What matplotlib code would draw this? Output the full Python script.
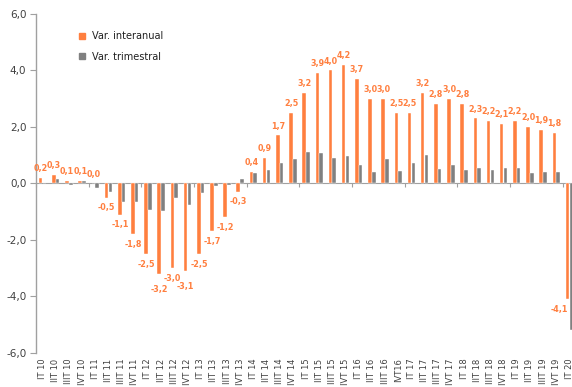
import numpy as np
import matplotlib
matplotlib.use('Agg')
import matplotlib.pyplot as plt
from matplotlib.lines import Line2D

# trimestres (IT 10 ... IT 20)
trimestres = ['IT 10', 'IIT 10', 'IIIT 10', 'IVT 10',
              'IT 11', 'IIT 11', 'IIIT 11', 'IVT 11',
              'IT 12', 'IIT 12', 'IIIT 12', 'IVT 12',
              'IT 13', 'IIT 13', 'IIIT 13', 'IVT 13',
              'IT 14', 'IIT 14', 'IIIT 14', 'IVT 14',
              'IT 15', 'IIT 15', 'IIIT 15', 'IVT 15',
              'IT 16', 'IIT 16', 'IIIT 16', 'IVT16',
              'IT 17', 'IIT 17', 'IIIT 17', 'IVT 17',
              'IT 18', 'IIT 18', 'IIIT 18', 'IVT 18',
              'IT 19', 'IIT 19', 'IIIT 19', 'IVT 19',
              'IT 20']

interanual = [0.2, 0.3, 0.1, 0.1,
              0.0, -0.5, -1.1, -1.8,
              -2.5, -3.2, -3.0, -3.1,
              -2.5, -1.7, -1.2, -0.3,
              0.4, 0.9, 1.7, 2.5,
              3.2, 3.9, 4.0, 4.2,
              3.7, 3.0, 3.0, 2.5,
              2.5, 3.2, 2.8, 3.0,
              2.8, 2.3, 2.2, 2.1,
              2.2, 2.0, 1.9, 1.8,
              -4.1]

trimestral = [0.02, 0.14, -0.05, 0.07,
              -0.15, -0.3, -0.65, -0.65,
              -0.95, -0.97, -0.5, -0.77,
              -0.33, -0.1, -0.05, 0.15,
              0.37, 0.46, 0.73, 0.85,
              1.13, 1.06, 0.9, 0.97,
              0.67, 0.41, 0.87, 0.45,
              0.73, 1.0, 0.52, 0.67,
              0.47, 0.53, 0.48, 0.54,
              0.55, 0.37, 0.39, 0.39,
              -5.2]

naranja = '#FF7F3F'
gris = '#808080'

# algunas etiquetas van algo más abajo para no pisarse
bajar = {'IIT 12': 4, 'IVT 12': 4}

fig = plt.figure(figsize=(5.72, 3.87), dpi=100)
ax = fig.add_axes([0.063, 0.088, 0.944, 0.876])

x = np.arange(len(trimestres))
w = 0.27
ax.bar(x - w / 2 - 0.01, interanual, w, color=naranja, edgecolor='white', linewidth=0.3, zorder=2)
ax.bar(x + w / 2 + 0.01, trimestral, w, color=gris, edgecolor='white', linewidth=0.3, zorder=2)

# etiquetas de la variación interanual
for xi, t, v in zip(x, trimestres, interanual):
    txt = f'{v:.1f}'.replace('.', ',')
    ha = 'right' if xi == x[-1] else 'center'
    if v >= 0:
        ax.annotate(txt, (xi - w / 2, v), xytext=(0, 3.5), textcoords='offset points',
                    ha=ha, va='bottom', fontsize=5.8, fontweight='bold', color=naranja)
    else:
        ax.annotate(txt, (xi - w / 2, v), xytext=(0, -4 - bajar.get(t, 0)), textcoords='offset points',
                    ha=ha, va='top', fontsize=5.8, fontweight='bold', color=naranja)

ax.set_xlim(-0.5, len(trimestres) - 0.5)
ax.set_ylim(-6, 6)
ax.set_yticks(np.arange(-6, 7, 2))
ax.set_yticklabels([f'{t:.1f}'.replace('.', ',') for t in np.arange(-6, 7, 2)])
ax.tick_params(axis='y', length=4, width=0.8, color='#A0A0A0', labelsize=7.5,
               labelcolor='#404040', pad=3)
ax.set_xticks(x)
ax.set_xticklabels(trimestres, rotation=90, fontsize=6, color='#404040')
ax.tick_params(axis='x', length=0, pad=4)

for s in ['top', 'right', 'bottom']:
    ax.spines[s].set_visible(False)
ax.spines['left'].set_color('#A0A0A0')
ax.spines['left'].set_linewidth(1.0)

# eje en el cero con marcas cada año
eje0 = ax.secondary_xaxis(0.5)
eje0.set_xticks(np.arange(-0.5, len(trimestres), 4))
eje0.tick_params(axis='x', direction='in', length=3, width=0.8, color='#A0A0A0',
                 labeltop=False, labelbottom=False)
eje0.spines['top'].set_color('#A0A0A0')
eje0.spines['bottom'].set_color('#A0A0A0')

handles = [Line2D([], [], marker='s', linestyle='none', color=naranja, markersize=5),
           Line2D([], [], marker='s', linestyle='none', color=gris, markersize=5)]
ax.legend(handles, ['Var. interanual', 'Var. trimestral'], loc='upper left',
          bbox_to_anchor=(0.05, 0.975), frameon=False, fontsize=7,
          handletextpad=0.1, labelspacing=1.1, labelcolor='#202020')

fig.savefig('out.png', dpi=100)
